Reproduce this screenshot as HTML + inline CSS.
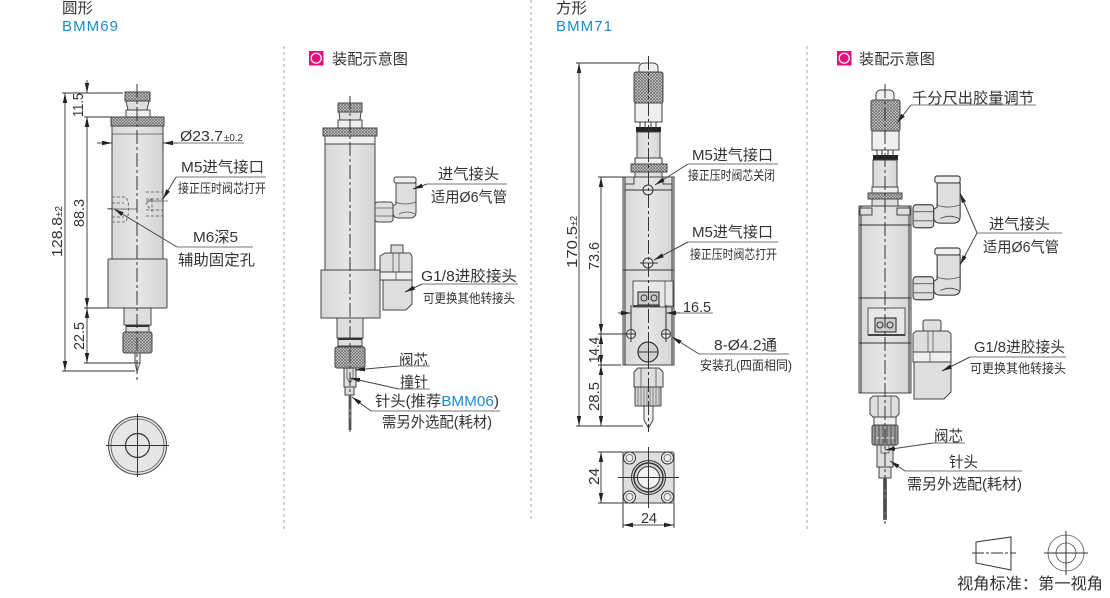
<!DOCTYPE html>
<html><head><meta charset="utf-8"><style>
html,body{margin:0;padding:0;background:#fff}
svg{display:block}
text{font-family:"Liberation Sans","Noto Sans CJK SC",sans-serif;fill:#333;font-size:15px}
.s{font-size:13px}
.b{fill:#1b8ccb}
.o{fill:#dedede;stroke:#444;stroke-width:1}
.l{fill:#efefef;stroke:#444;stroke-width:1}
.k{fill:url(#kn);stroke:#444;stroke-width:1}
.n{fill:none;stroke:#555;stroke-width:.8}
.d{fill:none;stroke:#333;stroke-width:1}
.c{fill:none;stroke:#333;stroke-width:1;stroke-dasharray:14 3 3 3}
.h{fill:none;stroke:#555;stroke-width:.8;stroke-dasharray:3 2}
.g{fill:none;stroke:#aaa;stroke-width:1;stroke-dasharray:3 3}
.a{fill:none;stroke:#444;stroke-width:1;marker-end:url(#ar)}
.u{fill:none;stroke:#777;stroke-width:1}
</style></head><body>
<svg width="1110" height="598" viewBox="0 0 1110 598" xmlns="http://www.w3.org/2000/svg">
<defs>
<pattern id="kn" width="3" height="3" patternUnits="userSpaceOnUse"><rect width="3" height="3" fill="#d6d6d6"/><path d="M0 0L3 3M3 0L0 3" stroke="#666" stroke-width=".7"/></pattern>
<linearGradient id="bd" x1="0" x2="1" y1="0" y2="0"><stop offset="0" stop-color="#d8d8d8"/><stop offset=".5" stop-color="#e6e6e6"/><stop offset="1" stop-color="#d4d4d4"/></linearGradient>
<marker id="ar" markerUnits="userSpaceOnUse" markerWidth="11" markerHeight="5" refX="10" refY="2.500" orient="auto"><path d="M0 0.300L10 2.500L0 4.700z" fill="#222"/></marker>
<g id="elbow">
<rect class="o" x="0" y="25" width="18" height="20" rx="3"/><path class="n" d="M0 31H18M0 39H18"/>
<path d="M18 29L21 27V6H41V35Q41 41 35 41H24Q18 41 18 36Z" class="o"/>
<rect class="l" x="19" y="0" width="22" height="6" rx="2"/>
<path class="n" d="M20 25Q30 29 41 25M24 37Q32 33 40 37"/>
</g>
</defs>

<!-- section dividers -->
<path class="g" d="M284 46V530M531 0V522M807 46V530"/>

<!-- titles -->
<text x="62" y="13" textLength="31" lengthAdjust="spacingAndGlyphs">圆形</text>
<text x="62" y="31" class="b" textLength="56" lengthAdjust="spacing">BMM69</text>
<text x="556" y="13" textLength="31" lengthAdjust="spacingAndGlyphs">方形</text>
<text x="556" y="31" class="b" textLength="56" lengthAdjust="spacing">BMM71</text>
<rect x="309" y="51" width="14.500" height="14.500" fill="#e2127c"/><circle cx="316.200" cy="58.200" r="5" fill="none" stroke="#fff" stroke-width="1.200"/>
<text x="332" y="64" textLength="76" lengthAdjust="spacingAndGlyphs">装配示意图</text>
<rect x="837" y="51" width="14.500" height="14.500" fill="#e2127c"/><circle cx="844.200" cy="58.200" r="5" fill="none" stroke="#fff" stroke-width="1.200"/>
<text x="859" y="64" textLength="76" lengthAdjust="spacingAndGlyphs">装配示意图</text>

<!-- ROUND: dimensioned view -->
<rect class="k" x="125" y="92" width="25" height="9"/>
<path class="o" d="M126 101H149L147 110H128Z"/>
<rect class="l" x="126" y="110" width="24" height="7"/>
<rect class="k" x="111" y="117" width="53" height="9"/>
<rect x="112" y="126" width="51" height="133" fill="url(#bd)" stroke="#444"/>
<path class="n" d="M112 134H163"/>
<rect x="108" y="259" width="59" height="49" rx="1" fill="url(#bd)" stroke="#444"/>
<rect class="o" x="124" y="308" width="27" height="17"/>
<rect class="o" x="126" y="325" width="23" height="7"/><path d="M126 326H149" stroke="#333" stroke-width="2"/>
<rect class="k" x="123" y="332" width="29" height="21" rx="2"/>
<rect class="l" x="135" y="353" width="5" height="10"/>
<path class="n" d="M135 363L137 372L140 363"/>
<path class="h" d="M112 197H126Q130 205 128 212M112 203H124M112 222H126L129 212M112 217H124M146 192H163M146 199H163M146 210H163M146 216H163M146 204L152 198V211Z"/>
<path class="n" d="M113 208L107 209H137M146 201H168"/>
<path class="c" d="M137 84V380"/>

<!-- round dimensions -->
<path class="d" d="M62 93H123M84 117H111M84 308H108M84 363H135M62 371H135M112 134V150M163 134V150"/>
<path class="u" d="M163 143H244"/>
<path class="a" d="M65 232V93"/><path class="a" d="M65 232V371"/>
<path class="a" d="M87 80V93"/><path class="a" d="M87 128V117"/><path class="a" d="M87 212V117"/><path class="a" d="M87 212V308"/>
<path class="a" d="M87 335V308"/><path class="a" d="M87 335V363"/>
<path class="a" d="M97 143H112"/><path class="a" d="M178 143H163"/>
<text x="180" y="141" textLength="43" lengthAdjust="spacingAndGlyphs">Ø23.7</text><text x="224" y="141" style="font-size:10px" textLength="19" lengthAdjust="spacingAndGlyphs">±0.2</text>
<text transform="translate(83,117) rotate(-90)" textLength="24" lengthAdjust="spacingAndGlyphs">11.5</text>
<text transform="translate(84,227) rotate(-90)" textLength="28" lengthAdjust="spacingAndGlyphs">88.3</text>
<text transform="translate(84,350) rotate(-90)" textLength="28" lengthAdjust="spacingAndGlyphs">22.5</text>
<text transform="translate(62,257) rotate(-90)" textLength="40" lengthAdjust="spacingAndGlyphs">128.8</text><text transform="translate(62,217) rotate(-90)" style="font-size:10px" textLength="11" lengthAdjust="spacingAndGlyphs">±2</text>
<text x="181" y="172" textLength="83" lengthAdjust="spacingAndGlyphs">M5进气接口</text>
<path class="u" d="M176 177H266"/><path class="a" d="M176 177L163 199"/>
<text x="178" y="193" class="s" textLength="88" lengthAdjust="spacingAndGlyphs">接正压时阀芯打开</text>
<text x="193" y="242" textLength="45" lengthAdjust="spacingAndGlyphs">M6深5</text>
<path class="u" d="M253 247H177"/><path class="a" d="M177 247L114 209"/>
<text x="178" y="265" textLength="77" lengthAdjust="spacingAndGlyphs">辅助固定孔</text>

<!-- round end view -->
<circle cx="137.500" cy="445.500" r="29" fill="#e6e6e6" stroke="#444"/>
<circle class="n" cx="137.500" cy="445.500" r="26.500"/>
<circle cx="137.500" cy="445.500" r="12" fill="none" stroke="#333" stroke-width="1.200"/>
<path class="d" d="M137.500 414V477M106 445.500H169"/>

<!-- ROUND: assembly view -->
<rect class="k" x="338" y="103" width="24" height="9"/>
<path class="o" d="M339 112H361L360 120H340Z"/>
<rect class="l" x="338" y="120" width="24" height="8"/>
<rect class="k" x="323" y="128" width="54" height="8"/>
<rect class="l" x="325" y="136" width="50" height="8"/>
<rect x="325" y="144" width="50" height="126" fill="url(#bd)" stroke="#444"/>
<rect x="321" y="270" width="59" height="48" fill="url(#bd)" stroke="#444"/>
<rect class="o" x="337" y="318" width="26" height="20"/>
<rect class="o" x="338" y="338" width="24" height="8"/><path d="M338 339H362" stroke="#333" stroke-width="2"/>
<rect class="k" x="335" y="347" width="30" height="21" rx="2"/>
<rect class="o" x="344" y="368" width="12" height="19"/>
<path class="n" d="M347 368V378L350 383L353 378V368"/>
<rect class="o" x="345" y="387" width="9" height="8"/>
<rect x="348.500" y="395" width="3" height="35" fill="#777"/>
<path class="c" d="M350 96V432"/>
<use href="#elbow" x="375" y="177"/>
<rect class="o" x="391" y="245" width="12" height="8"/>
<path class="o" d="M380 256L385 253H410L412 256V272H380Z"/>
<path class="n" d="M393 253V272M399 253V272"/>
<rect class="l" x="380" y="272" width="32" height="8"/>
<path class="n" d="M396 272V280"/>
<path class="o" d="M383 280H412V304L406 310H383Z"/>

<text x="438" y="179" textLength="61" lengthAdjust="spacingAndGlyphs">进气接头</text>
<path class="u" d="M507 184H427"/><path class="a" d="M427 184L413 189"/>
<text x="431" y="202" textLength="76" lengthAdjust="spacingAndGlyphs">适用Ø6气管</text>
<text x="421" y="281" textLength="96" lengthAdjust="spacingAndGlyphs">G1/8进胶接头</text>
<path class="u" d="M518 284H422"/><path class="a" d="M422 284L405 292"/>
<text x="423" y="303" class="s" textLength="92" lengthAdjust="spacingAndGlyphs">可更换其他转接头</text>
<text x="399" y="365" textLength="29" lengthAdjust="spacingAndGlyphs">阀芯</text>
<path class="u" d="M430 366H399"/><path class="a" d="M399 366L355 370"/>
<text x="400" y="387" textLength="28" lengthAdjust="spacingAndGlyphs">撞针</text>
<path class="u" d="M430 389H399"/><path class="a" d="M399 389L350 378"/>
<text x="375" y="406" textLength="124" lengthAdjust="spacingAndGlyphs">针头(推荐<tspan class="b">BMM06</tspan>)</text>
<path class="u" d="M500 411H371"/><path class="a" d="M371 411L352 397"/>
<text x="382" y="427" textLength="110" lengthAdjust="spacingAndGlyphs">需另外选配(耗材)</text>

<!-- SQUARE: dimensioned view -->
<path class="l" d="M639 72V67Q640 63 644 63H653Q657 63 658 67V72Z"/>
<rect class="k" x="634" y="72" width="29" height="31" rx="2"/>
<rect class="l" x="635" y="103" width="27" height="19"/>
<rect x="636" y="127" width="25" height="5" fill="#222"/>
<path d="M640 122V130M645 122V130M651 122V130M656 122V130" stroke="#333"/>
<rect x="637" y="132" width="23" height="26" fill="url(#bd)" stroke="#444"/>
<rect class="l" x="635" y="158" width="27" height="6"/>
<rect class="k" x="631" y="164" width="36" height="8"/>
<rect class="o" x="635" y="172" width="27" height="5"/>
<rect x="623" y="177" width="51" height="188" fill="url(#bd)" stroke="#444"/>
<path class="d" d="M623 270H674M625 177V365M672 177V365"/>
<path class="o" d="M625 177H634V184H625ZM663 177H672V184H663Z"/>
<rect x="633" y="281" width="40" height="26" fill="#e8e8e8" stroke="#555"/>
<rect x="638" y="292" width="21" height="13" fill="#ccc" stroke="#222"/>
<circle class="d" cx="644" cy="298" r="3"/><circle class="d" cx="654" cy="298" r="3"/>
<rect x="633" y="305" width="27" height="2" fill="#444"/>
<path class="n" d="M665 281V306H673"/>
<circle cx="648" cy="190" r="5" fill="#e8e8e8" stroke="#333"/>
<circle cx="648" cy="263" r="5" fill="#e8e8e8" stroke="#333"/>
<circle cx="631" cy="334" r="4.500" fill="#e8e8e8" stroke="#333"/>
<circle cx="666" cy="334" r="4.500" fill="#e8e8e8" stroke="#333"/>
<circle cx="648" cy="352" r="10" fill="#d0d0d0" stroke="#333" stroke-width="1.200"/>
<path class="o" d="M634 372L638 368H659L663 372V387H634Z"/>
<path class="n" d="M641 368V387M656 368V387"/>
<rect x="635" y="387" width="26" height="19" rx="1" fill="#d4d4d4" stroke="#444"/>
<path d="M638 387V406M641 387V406M644 387V406M647 387V406M650 387V406M653 387V406M656 387V406M659 387V406" stroke="#666" stroke-width=".7"/>
<path class="l" d="M644 406H653V420L648.500 428L644 420Z"/>
<path class="c" d="M648.500 56V432"/>
<path class="d" d="M625 190H672M640 263H658M626 334H636M661 334H671M648.500 340V364M638 352H658M631 326V342M666 326V342"/>

<!-- square dimensions -->
<path class="d" d="M576 63H640M576 426H643M598 177H623M598 334H626M598 365H621M631 305V326M666 305V326"/>
<path class="u" d="M666 313H713"/>
<path class="a" d="M579 240V63"/><path class="a" d="M579 240V426"/>
<path class="a" d="M601 255V177"/><path class="a" d="M601 255V334"/>
<path class="a" d="M601 350V334"/><path class="a" d="M601 350V365"/>
<path class="a" d="M601 395V365"/><path class="a" d="M601 395V426"/>
<path class="a" d="M618 313H631"/><path class="a" d="M680 313H666"/>
<text transform="translate(577,268) rotate(-90)" textLength="42" lengthAdjust="spacingAndGlyphs">170.5</text><text transform="translate(577,226) rotate(-90)" style="font-size:10px" textLength="10" lengthAdjust="spacingAndGlyphs">±2</text>
<text transform="translate(599,270) rotate(-90)" textLength="28" lengthAdjust="spacingAndGlyphs">73.6</text>
<text transform="translate(599,363) rotate(-90)" textLength="26" lengthAdjust="spacingAndGlyphs">14.4</text>
<text transform="translate(599,411) rotate(-90)" textLength="29" lengthAdjust="spacingAndGlyphs">28.5</text>
<text x="683" y="312" textLength="28" lengthAdjust="spacingAndGlyphs">16.5</text>
<text x="692" y="160" textLength="81" lengthAdjust="spacingAndGlyphs">M5进气接口</text>
<path class="u" d="M778 164H688"/><path class="a" d="M688 164L655 185"/>
<text x="688" y="180" class="s" textLength="87" lengthAdjust="spacingAndGlyphs">接正压时阀芯关闭</text>
<text x="692" y="237" textLength="81" lengthAdjust="spacingAndGlyphs">M5进气接口</text>
<path class="u" d="M778 242H688"/><path class="a" d="M688 242L654 260"/>
<text x="690" y="259" class="s" textLength="87" lengthAdjust="spacingAndGlyphs">接正压时阀芯打开</text>
<text x="714" y="350" textLength="63" lengthAdjust="spacingAndGlyphs">8-Ø4.2通</text>
<path class="u" d="M789 354H699"/><path class="a" d="M699 354L672 337"/>
<text x="700" y="370" class="s" textLength="92" lengthAdjust="spacingAndGlyphs">安装孔(四面相同)</text>

<!-- square end view -->
<rect x="623" y="452" width="51" height="51" rx="2" fill="#dedede" stroke="#444"/>
<circle cx="629.500" cy="458" r="6" fill="#eee" stroke="#333"/><circle cx="629.500" cy="458" r="3.500" class="n"/>
<circle cx="667.500" cy="458" r="6" fill="#eee" stroke="#333"/><circle cx="667.500" cy="458" r="3.500" class="n"/>
<circle cx="629.500" cy="497" r="6" fill="#eee" stroke="#333"/><circle cx="629.500" cy="497" r="3.500" class="n"/>
<circle cx="667.500" cy="497" r="6" fill="#eee" stroke="#333"/><circle cx="667.500" cy="497" r="3.500" class="n"/>
<circle cx="648.500" cy="477.500" r="17" fill="#d4d4d4" stroke="#333"/>
<circle cx="648.500" cy="477.500" r="14.500" fill="none" stroke="#333" stroke-width="1.400"/>
<circle cx="648.500" cy="477.500" r="11" fill="#f1f1f1" stroke="#333"/>
<path class="d" d="M648.500 447V508M618 477.500H679"/>
<path class="d" d="M598 452H623M598 503H623M623 503V528M674 503V528"/>
<path class="a" d="M601 477V452"/><path class="a" d="M601 477V503"/>
<path class="a" d="M648 525H623"/><path class="a" d="M648 525H674"/>
<text transform="translate(599,485) rotate(-90)" textLength="17" lengthAdjust="spacingAndGlyphs">24</text>
<text x="641" y="523" textLength="16" lengthAdjust="spacingAndGlyphs">24</text>

<!-- SQUARE: assembly view -->
<path class="l" d="M876 100V94Q877 90 881 90H889Q893 90 894 94V100Z"/>
<rect class="k" x="871" y="100" width="29" height="31" rx="2"/>
<rect class="l" x="872" y="131" width="27" height="19"/>
<rect x="873" y="155" width="25" height="5" fill="#222"/>
<path d="M877 150V158M882 150V158M888 150V158M893 150V158" stroke="#333"/>
<rect x="873" y="160" width="24" height="27" fill="url(#bd)" stroke="#444"/>
<rect class="l" x="872" y="187" width="26" height="6"/>
<rect class="k" x="868" y="193" width="34" height="6"/>
<rect class="o" x="872" y="199" width="26" height="7"/>
<rect x="859" y="206" width="52" height="187" fill="url(#bd)" stroke="#444"/>
<path class="d" d="M859 225H911M859 298H911M859 343H911M861 206V393M909 206V393"/>
<path class="o" d="M860 208H872V215H860ZM897 208H910V215H897Z"/>
<rect x="868" y="308" width="37" height="27" fill="#e8e8e8" stroke="#555"/>
<rect x="875" y="318" width="21" height="14" fill="#ccc" stroke="#222"/>
<circle class="d" cx="880" cy="325" r="3"/><circle class="d" cx="890" cy="325" r="3"/>
<rect x="868" y="334" width="37" height="2" fill="#444"/>
<use href="#elbow" transform="translate(913,176) scale(1.150)"/>
<use href="#elbow" transform="translate(913,248) scale(1.150)"/>
<rect class="o" x="923" y="320" width="18" height="11" rx="2"/>
<path class="o" d="M913 334L916 331H948L951 334V352H913Z"/>
<path class="n" d="M928 331V352M933 331V352"/>
<rect class="l" x="913" y="352" width="38" height="10"/>
<path class="n" d="M930 352V362"/>
<path class="o" d="M914 362H951V392L944 399H914Z"/>
<path class="o" d="M870 399L873 396H896L899 399V414L896 417H873L870 414Z"/>
<path class="n" d="M878 396V417M891 396V417"/>
<rect class="l" x="874" y="417" width="22" height="8"/>
<rect x="872" y="425" width="26" height="20" rx="2" fill="#999" stroke="#444"/>
<path d="M875 425V445M879 425V445M883 425V445M887 425V445M891 425V445M895 425V445" stroke="#333" stroke-width=".7"/>
<path d="M876 438H894" stroke="#eee" stroke-dasharray="3 2"/>
<rect class="o" x="877" y="445" width="16" height="22"/>
<path class="n" d="M881 445V453H889V445"/>
<rect class="o" x="879" y="467" width="12" height="11"/>
<rect x="883" y="478" width="4" height="42" fill="#666"/>
<path class="c" d="M885 84V524"/>

<text x="912" y="103" textLength="122" lengthAdjust="spacingAndGlyphs">千分尺出胶量调节</text>
<path class="u" d="M1036 105H911"/><path class="a" d="M911 105L897 123"/>
<text x="989" y="229" textLength="61" lengthAdjust="spacingAndGlyphs">进气接头</text>
<path class="u" d="M1062 233H977"/><path class="a" d="M977 233L960 193"/><path class="a" d="M977 233L960 265"/>
<text x="983" y="252" textLength="76" lengthAdjust="spacingAndGlyphs">适用Ø6气管</text>
<text x="974" y="352" textLength="91" lengthAdjust="spacingAndGlyphs">G1/8进胶接头</text>
<path class="u" d="M1066 357H970"/><path class="a" d="M970 357L942 371"/>
<text x="970" y="373" class="s" textLength="96" lengthAdjust="spacingAndGlyphs">可更换其他转接头</text>
<text x="934" y="441" textLength="29" lengthAdjust="spacingAndGlyphs">阀芯</text>
<path class="u" d="M965 443H933"/><path class="a" d="M933 443L885 450"/>
<text x="949" y="467" textLength="29" lengthAdjust="spacingAndGlyphs">针头</text>
<path class="u" d="M1022 471H905"/><path class="a" d="M905 471L890 461"/>
<text x="907" y="489" textLength="115" lengthAdjust="spacingAndGlyphs">需另外选配(耗材)</text>

<!-- view symbol -->
<path fill="none" stroke="#333" d="M976 542L1011 537V570L976 563Z"/>
<path class="d" d="M972 553H1016" stroke-dasharray="12 2 3 2"/>
<circle class="n" cx="1066" cy="553" r="18"/><circle class="n" cx="1066" cy="553" r="10"/>
<path class="d" d="M1066 531V575M1044 553H1088"/>
<text x="957" y="589" style="font-size:16px" textLength="146" lengthAdjust="spacingAndGlyphs">视角标准：第一视角</text>
</svg>
</body></html>
